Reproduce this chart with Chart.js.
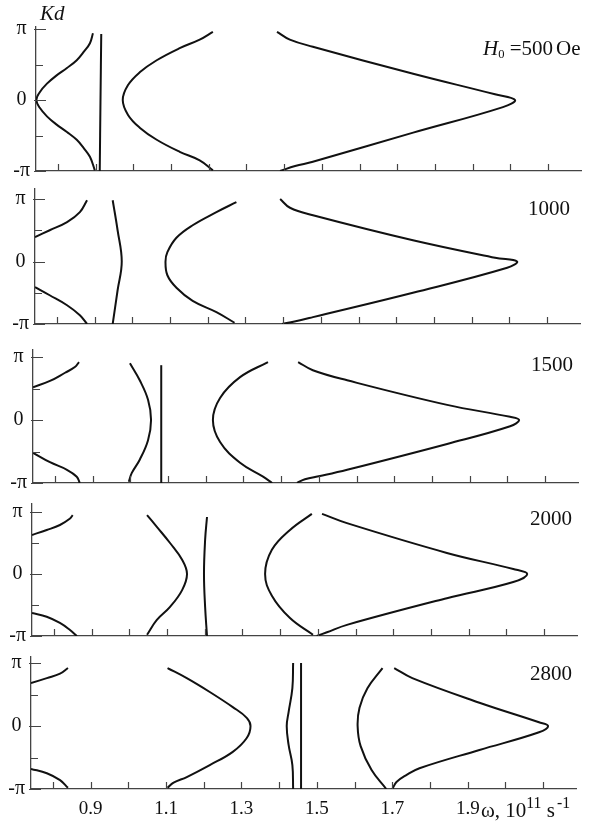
<!DOCTYPE html>
<html>
<head>
<meta charset="utf-8">
<script src="https://cdn.jsdelivr.net/npm/chart.js@4.4.1/dist/chart.umd.min.js"></script>
<style>
html,body{margin:0;padding:0;background:#fff;}
#wrap{position:relative;width:593px;height:828px;overflow:hidden;background:#fff;}
#wrap canvas{position:absolute;left:0;top:0;}
.lbl{position:absolute;font-family:'Liberation Serif','Times New Roman',serif;color:#111;white-space:nowrap;line-height:1;}
.lbl sup{font-size:0.75em;vertical-align:0.55em;line-height:0;}
.lbl sub{font-size:0.6em;vertical-align:-0.2em;line-height:0;}
</style>
</head>
<body>
<div id="wrap">
  <canvas id="c0" width="593" height="828"></canvas>
  <canvas id="c1" width="593" height="828"></canvas>
  <canvas id="c2" width="593" height="828"></canvas>
  <canvas id="c3" width="593" height="828"></canvas>
  <canvas id="c4" width="593" height="828"></canvas>
  <div class="lbl" style="left:40px;top:3px;font-size:21px;font-style:italic;">Kd</div>
  <div class="lbl" style="left:483px;top:38px;font-size:21px;"><i>H</i><sub>0</sub> =500<span style="margin-left:3px">Oe</span></div>
  <div class="lbl" style="left:528px;top:198px;font-size:21px;">1000</div>
  <div class="lbl" style="left:531px;top:354px;font-size:21px;">1500</div>
  <div class="lbl" style="left:530px;top:508px;font-size:21px;">2000</div>
  <div class="lbl" style="left:530px;top:663px;font-size:21px;">2800</div>
  <div class="lbl" style="left:481px;top:800px;font-size:21px;">ω, 10<sup>11</sup> s<sup style="margin-left:2px">-1</sup></div>
</div>
<script>
// ---------- axis ticks / labels ----------
const OMEGA_TICKS = [0.8, 0.9, 1.0, 1.1, 1.2, 1.3, 1.4, 1.5, 1.6, 1.7, 1.8, 1.9, 2.0, 2.1];
const OMEGA_LABELS = ['0.9', '1.1', '1.3', '1.5', '1.7', '1.9'];
const KD_TICKS = [-1, -0.5, 0, 0.5, 1];          // in units of π
const KD_LABELS = ['-π', '', '0', '', 'π'];
const FIELDS = ['500', '1000', '1500', '2000', '2800'];

// ---------- curves: [Kd/π, ω (10^11 s^-1)] ----------
// H0 = 500 Oe
const h500_1 = [[0.94,0.893],[0.80,0.885],[0.68,0.869],[0.56,0.850],[0.45,0.824],[0.34,0.795],[0.23,0.771],[0.11,0.752],[0,0.743],[-0.11,0.752],[-0.23,0.771],[-0.34,0.795],[-0.45,0.824],[-0.56,0.850],[-0.68,0.869],[-0.80,0.885],[-0.99,0.898]];
const h500_2 = [[0.93,0.915],[0,0.913],[-1,0.911]];
const h500_3 = [[0.96,1.211],[0.85,1.176],[0.73,1.123],[0.56,1.062],[0.39,1.017],[0.21,0.986],[0,0.972],[-0.21,0.986],[-0.39,1.017],[-0.56,1.062],[-0.73,1.123],[-0.85,1.176],[-0.99,1.211]];
const h500_4 = [[0.96,1.381],[0.85,1.415],[0.75,1.476],[0.37,1.742],[0.08,1.959],[0,2.012],[-0.10,1.980],[-0.46,1.742],[-0.87,1.476],[-0.93,1.429],[-1,1.389]];
// H0 = 1000 Oe
const h1000_1 = [[0.39,0.742],[0.50,0.781],[0.63,0.827],[0.79,0.861],[0.98,0.880]];
const h1000_2 = [[-0.41,0.742],[-0.54,0.781],[-0.70,0.827],[-0.86,0.861],[-1,0.880]];
const h1000_3 = [[0.98,0.948],[0.50,0.961],[0,0.972],[-0.46,0.961],[-1,0.948]];
const h1000_4 = [[0.95,1.276],[0.79,1.223],[0.58,1.160],[0.38,1.117],[0.15,1.093],[0,1.088],[-0.22,1.093],[-0.42,1.117],[-0.63,1.160],[-0.81,1.223],[-0.98,1.271]];
const h1000_5 = [[1,1.392],[0.86,1.418],[0.74,1.479],[0.34,1.744],[0.06,1.962],[0,2.020],[-0.10,1.994],[-0.50,1.744],[-0.89,1.479],[-0.96,1.430],[-1,1.397]];
// H0 = 1500 Oe
const h1500_1 = [[0.52,0.742],[0.62,0.787],[0.75,0.827],[0.84,0.853],[0.92,0.864]];
const h1500_2 = [[-0.52,0.742],[-0.67,0.787],[-0.79,0.832],[-0.90,0.858],[-1,0.866]];
const h1500_3 = [[0.90,0.999],[0.63,1.025],[0.32,1.047],[0,1.055],[-0.32,1.047],[-0.63,1.025],[-0.84,1.004],[-0.98,0.996]];
const h1500_4 = [[0.87,1.082],[0,1.082],[-1,1.082]];
const h1500_5 = [[0.92,1.365],[0.68,1.291],[0.35,1.238],[0,1.219],[-0.35,1.238],[-0.68,1.291],[-0.90,1.352],[-1,1.376]];
const h1500_6 = [[0.92,1.445],[0.79,1.484],[0.63,1.575],[0.24,1.840],[0.05,2.007],[0,2.031],[-0.10,2.007],[-0.38,1.840],[-0.79,1.575],[-0.89,1.503],[-0.94,1.463],[-1,1.442]];
// H0 = 2000 Oe
const h2000_1 = [[0.63,0.742],[0.71,0.781],[0.79,0.816],[0.89,0.842],[0.95,0.850]];
const h2000_2 = [[-0.63,0.742],[-0.69,0.781],[-0.79,0.816],[-0.90,0.842],[-1,0.861]];
const h2000_3 = [[0.95,1.047],[0.76,1.073],[0.50,1.108],[0.23,1.140],[0,1.153],[-0.26,1.140],[-0.53,1.108],[-0.74,1.073],[-0.98,1.047]];
const h2000_4 = [[0.92,1.206],[0.55,1.201],[0,1.198],[-0.53,1.201],[-1,1.206]];
const h2000_5 = [[0.97,1.484],[0.71,1.426],[0.39,1.378],[0,1.360],[-0.35,1.378],[-0.71,1.426],[-0.98,1.487]];
const h2000_6 = [[0.97,1.511],[0.82,1.577],[0.34,1.842],[0.08,2.018],[0,2.055],[-0.13,2.018],[-0.39,1.842],[-0.82,1.577],[-0.94,1.524],[-1,1.497]];
// H0 = 2800 Oe
const h2800_1 = [[0.68,0.742],[0.76,0.784],[0.83,0.819],[0.92,0.840]];
const h2800_2 = [[-0.68,0.742],[-0.75,0.784],[-0.86,0.819],[-0.98,0.840]];
const h2800_3 = [[0.92,1.104],[0.76,1.155],[0.54,1.216],[0.30,1.277],[0.13,1.314],[0,1.324],[-0.19,1.314],[-0.41,1.277],[-0.62,1.216],[-0.81,1.155],[-0.90,1.120],[-0.98,1.104]];
const h2800_4 = [[1,1.437],[0.60,1.435],[0.22,1.425],[0,1.420],[-0.30,1.425],[-0.62,1.435],[-1,1.437]];
const h2800_5 = [[1,1.458],[-1,1.458]];
const h2800_6 = [[0.92,1.674],[0.60,1.634],[0.29,1.613],[0,1.608],[-0.32,1.616],[-0.70,1.645],[-1,1.684]];
const h2800_7 = [[0.92,1.705],[0.76,1.753],[0.37,1.931],[0.06,2.089],[0,2.113],[-0.10,2.089],[-0.38,1.931],[-0.67,1.772],[-0.78,1.737],[-0.89,1.711],[-1,1.700]];

const PANEL_CURVES = [
  [h500_1, h500_2, h500_3, h500_4],
  [h1000_1, h1000_2, h1000_3, h1000_4, h1000_5],
  [h1500_1, h1500_2, h1500_3, h1500_4, h1500_5, h1500_6],
  [h2000_1, h2000_2, h2000_3, h2000_4, h2000_5, h2000_6],
  [h2800_1, h2800_2, h2800_3, h2800_4, h2800_5, h2800_6, h2800_7]
];

// ---------- layout (pixels) ----------
const X_MIN = 0.742, X_MAX = 2.187;
const BOX_LEFT = [36, 35, 33, 32, 31];
const BOX_WIDTH = 545;
const BOX_TOP = [27, 189, 350, 504, 657];
const BOX_PI = [29, 199, 357, 512, 663];
const BOX_BOTTOM = [171, 324, 483, 636, 789];
const Y_AXIS_W = 30;
const AXIS_COLOR = '#444';

const inwardTicks = {
  id: 'inwardTicks',
  afterDraw(chart) {
    const {ctx, chartArea: a, scales: {x, y}} = chart;
    ctx.save();
    ctx.strokeStyle = AXIS_COLOR;
    ctx.lineWidth = 1.2;
    ctx.beginPath();
    x.ticks.forEach(t => {
      const px = Math.round(x.getPixelForValue(t.value)) + 0.5;
      ctx.moveTo(px, a.bottom);
      ctx.lineTo(px, a.bottom - 7);
    });
    y.ticks.forEach((t, i) => {
      const py = Math.round(y.getPixelForValue(t.value)) + 0.5;
      const major = KD_LABELS[i] !== '';
      ctx.moveTo(a.left - (major ? 2 : 0), py);
      ctx.lineTo(a.left + (major ? 10 : 7), py);
    });
    ctx.stroke();
    ctx.restore();
  }
};

function makePanel(i) {
  const left = BOX_LEFT[i], top = BOX_TOP[i], pi = BOX_PI[i], bot = BOX_BOTTOM[i];
  const yMax = Math.PI + (pi - top) / (bot - pi) * 2 * Math.PI;
  const isLast = i === PANEL_CURVES.length - 1;
  const xH = isLast ? 40 : 0;
  new Chart(document.getElementById('c' + i), {
    type: 'scatter',
    data: {
      datasets: PANEL_CURVES[i].map((c, j) => ({
        label: 'H0=' + FIELDS[i] + ' branch ' + (j + 1),
        data: c.map(([k, w]) => ({x: w, y: k * Math.PI})),
        showLine: true,
        borderColor: '#111',
        borderWidth: 2,
        pointRadius: 0,
        tension: 0.4,
        fill: false
      }))
    },
    options: {
      responsive: false,
      animation: false,
      events: [],
      layout: {padding: {left: left - Y_AXIS_W, right: 593 - (left + BOX_WIDTH), top: top, bottom: 828 - bot - xH}},
      plugins: {legend: {display: false}, tooltip: {enabled: false}},
      scales: {
        x: {
          type: 'linear', position: 'bottom', min: X_MIN, max: X_MAX,
          afterBuildTicks: s => { s.ticks = OMEGA_TICKS.map(v => ({value: v})); },
          afterFit: s => { s.height = xH; },
          grid: {display: false, drawTicks: false},
          border: {display: true, color: AXIS_COLOR, width: 1.3},
          ticks: {
            display: isLast, autoSkip: false, maxRotation: 0, minRotation: 0, padding: 9,
            color: '#111', font: {family: "'Liberation Serif', serif", size: 19},
            callback: v => { const s = Number(v).toFixed(1); return OMEGA_LABELS.includes(s) ? s : ''; }
          }
        },
        y: {
          type: 'linear', position: 'left', min: -Math.PI, max: yMax,
          afterBuildTicks: s => { s.ticks = KD_TICKS.map(v => ({value: v * Math.PI})); },
          afterFit: s => { s.width = Y_AXIS_W; },
          grid: {display: false, drawTicks: false},
          border: {display: true, color: AXIS_COLOR, width: 1.3},
          ticks: {
            autoSkip: false, crossAlign: 'center', padding: 6,
            color: '#111', font: {family: "'Liberation Serif', serif", size: 20},
            callback: (v, idx) => KD_LABELS[idx]
          }
        }
      }
    },
    plugins: [inwardTicks]
  });
}

for (let i = 0; i < PANEL_CURVES.length; i++) makePanel(i);
</script>
</body>
</html>
